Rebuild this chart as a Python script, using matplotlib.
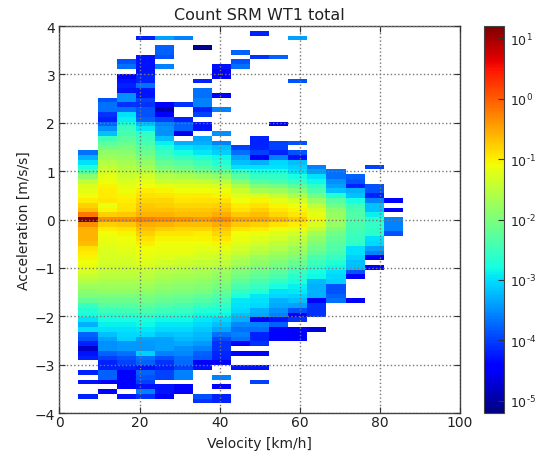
import matplotlib
matplotlib.use('Agg')
import matplotlib.pyplot as plt
import numpy as np
from matplotlib.colors import LogNorm

_ = np.nan

# log10 of the count per velocity column, rows listed from the top (a = +3.95) downwards
col_01 = [_]*26 + [-3.7,-3.3,-3.0,-2.75,-2.4,-1.9,-1.45,-1.3,-1.2,-1.1,-1.0,-.8,-.65,-.2,1.2,
    -.35,-.6,-.6,-.6,-.65,-.9,-1.0,-1.05,-1.1,-1.2,-1.3,-1.45,-1.6,-1.75,-1.9,-2.0,-2.2,-2.55,-2.7,-2.8,
    -3.0,-3.3,-3.0,-3.8,-3.9,-4.2,-4.8,-4.3,-4.2,_,_,-4.2,_,-4.3,_,_,-4.2]
col_02 = [_]*15 + [-3.9,-3.7,-3.7,-4.1,-4.2,-3.8,-3.5,-3.2,-2.5,-2.25,-2.1,-1.85,-1.75,-1.6,-1.45,-1.35,-1.2,-1.15,
    -1.05,-1.0,-1.0,-.95,-1.15,-1.05,-.8,-.35,
    -.8,-1.0,-1.1,-1.15,-1.2,-1.25,-1.3,-1.3,-1.35,-1.4,-1.45,-1.55,-1.65,-1.75,-1.85,-2.0,-2.15,-2.3,-2.5,-2.65,
    -2.8,-2.9,-3.0,-3.2,-3.4,-3.5,-3.5,-3.8,-4.0,-4.2,-4.2,-3.8,-3.8,-4.4,_,-4.4]
col_03 = [_]*7 + [-3.9,-3.7,_,-4.4,-4.3,-4.2,-4.3,-3.5,-3.5,-4.1,-3.7,-3.0,-2.9,-2.75,-2.5,-2.4,-2.3,-2.15,-2.05,
    -1.9,-1.8,-1.7,-1.6,-1.5,-1.4,-1.3,-1.2,-1.15,-1.05,-1.0,-.95,-.9,-.75,-.35,
    -.75,-.95,-1.05,-1.1,-1.15,-1.2,-1.25,-1.3,-1.35,-1.4,-1.45,-1.55,-1.65,-1.75,-1.85,-2.0,-2.15,-2.3,-2.45,-2.65,
    -2.8,-2.9,-3.0,-3.05,-3.1,-3.45,-3.45,-3.7,-3.9,-4.0,-4.2,-4.4,-4.4,-4.4,-4.5,_,-4.3]
col_04 = [_]*2 + [-4.2,_,_,_,-4.3,-4.3,-4.3,-4.3,-4.2,-4.2,-3.7,-4.3,-4.3,-4.0,-4.1,-3.9,-3.9,-3.8,-3.2,-2.95,-2.6,-2.5,
    -2.4,-2.3,-2.15,-2.0,-1.85,-1.7,-1.55,-1.35,-1.2,-1.1,-1.0,-.9,-.85,-.75,-.7,-.6,-.25,
    -.55,-.7,-.8,-.9,-1.0,-1.1,-1.15,-1.2,-1.25,-1.35,-1.45,-1.55,-1.65,-1.75,-1.85,-2.0,-2.1,-2.25,-2.4,-2.6,
    -2.75,-2.85,-2.95,-3.05,-3.4,-3.45,-3.45,-3.1,-3.7,-3.8,-4.3,-3.8,-3.9,-4.0,-4.3,-3.6,-4.1]
col_05 = [_]*2 + [-3.4,_,-3.8,-3.8,-3.9,_,-3.6] + [_]*7 + [-4.5,-4.9,-4.5,-4.0,-3.6,-3.5,-3.5,-3.2,-2.9,-2.7,-2.55,-2.4,
    -2.2,-2.05,-1.8,-1.6,-1.4,-1.2,-1.05,-.95,-.85,-.8,-.7,-.6,-.3,
    -.6,-.8,-.95,-1.05,-1.1,-1.15,-1.2,-1.25,-1.35,-1.45,-1.55,-1.65,-1.75,-1.85,-1.95,-2.05,-2.2,-2.35,-2.5,-2.65,
    -2.85,-2.95,-3.05,-3.2,-3.4,-3.4,-3.4,-3.6,-3.9,-4.1,-4.2,-4.0,-4.0,_,-4.3,-4.3,-4.4]
col_06 = [_]*2 + [-3.6] + [_]*13 + [-4.1,_,_,-4.2,-3.8,-3.8,-4.6,_,-3.3,-3.0,-2.8,-2.55,-2.35,-2.15,-1.9,-1.65,-1.4,
    -1.25,-1.1,-1.0,-.95,-.85,-.75,-.65,-.35,
    -.65,-.85,-.95,-1.05,-1.1,-1.15,-1.2,-1.3,-1.4,-1.5,-1.6,-1.7,-1.8,-1.9,-2.0,-2.1,-2.25,-2.4,-2.55,-2.7,
    -2.85,-2.95,-3.05,-3.15,-3.25,-3.35,-3.5,-3.55,-3.7,-3.75,-4.0,-3.6,-3.6,_,-4.4,-4.4]
col_07 = [_]*4 + [-5.1] + [_]*6 + [-4.2,_,-3.7,-3.7,-3.6,-3.6,-4.2,-4.0,_,-4.3,-4.3,_,-3.4,-3.3,-3.1,-2.95,-2.7,-2.5,-2.3,
    -2.05,-1.75,-1.45,-1.25,-1.1,-1.0,-.9,-.85,-.75,-.65,-.4,
    -.65,-.85,-1.0,-1.05,-1.1,-1.2,-1.3,-1.35,-1.45,-1.55,-1.65,-1.75,-1.85,-1.95,-2.05,-2.2,-2.35,-2.5,-2.7,-2.85,
    -2.95,-3.05,-3.15,-3.25,-3.3,-3.45,-3.6,-3.8,-3.85,-4.5,-4.3,_,_,_,_,_,-3.9,-4.1]
col_08 = [_]*8 + [-4.3,-4.4,-4.4,_,_,_,-4.4,_,_,-3.6,_,_,_,_,-3.5,_,-3.6,-3.2,-3.1,-2.85,-2.7,-2.5,-2.2,-1.85,-1.55,-1.3,
    -1.15,-1.05,-.9,-.8,-.7,-.55,-.3,
    -.55,-.75,-.85,-.95,-1.05,-1.2,-1.3,-1.4,-1.5,-1.6,-1.75,-1.85,-1.95,-2.05,-2.2,-2.3,-2.45,-2.6,-2.75,-2.85,
    -3.05,-3.2,-3.35,-3.7,-3.95,-4.1,-4.1,-4.15,-4.2,-4.5,_,_,-3.6,_,-4.4,_,-4.2,-4.2]
col_09 = [_]*5 + [-3.8,_,-3.9,-3.7] + [_]*16 + [-4.0,-3.7,-3.4,-3.2,-3.0,-2.55,-2.3,-1.95,-1.65,-1.4,-1.25,-1.1,-1.0,-.9,-.75,-.5,
    -.75,-.95,-1.1,-1.15,-1.25,-1.35,-1.45,-1.6,-1.7,-1.85,-1.95,-2.1,-2.25,-2.4,-2.6,-2.75,-2.95,-3.0,-3.05,-3.2,
    -3.3,-3.55,-3.7,-3.6,-3.7,-4.4,_,-4.5,_,_,-4.3]
col_10 = [_]*1 + [-4.2,_,_,_,_,-4.1] + [_]*16 + [-4.2,-4.2,-4.15,-4.0,-4.4,-3.3,-3.0,-2.8,-2.55,-2.3,-2.0,-1.7,-1.3,-1.05,-.9,-.8,-.65,-.5,
    -.8,-1.0,-1.15,-1.25,-1.35,-1.5,-1.6,-1.75,-1.85,-2.0,-2.1,-2.25,-2.4,-2.55,-2.7,-2.95,-3.0,-3.05,-3.3,-3.35,
    -4.5,-3.6,-3.7,-4.2,-4.2,-4.1,_,-4.4,_,_,-4.3,_,_,-4.0]
col_11 = [_]*6 + [-3.8] + [_]*13 + [-4.6,_,_,_,-4.0,-4.0,-4.2,-3.6,-3.05,-3.0,-2.8,-2.6,-2.4,-2.1,-1.75,-1.45,-1.2,-1.05,-.95,-.85,-.6,
    -.9,-1.1,-1.25,-1.35,-1.5,-1.6,-1.75,-1.85,-2.0,-2.1,-2.25,-2.4,-2.6,-2.8,-3.0,-3.05,-3.3,-3.35,-3.5,-3.6,
    -4.3,-3.8,-4.4,-4.4,-4.4]
col_12 = [_]*2 + [-3.4] + [_]*8 + [-3.9] + [_]*12 + [-3.9,_,-3.9,-4.3,-3.2,-3.1,-3.0,-2.8,-2.55,-2.3,-1.95,-1.65,-1.35,-1.1,-1.05,-.95,-.75,
    -1.0,-1.2,-1.35,-1.5,-1.6,-1.75,-1.85,-2.0,-2.15,-2.3,-2.5,-2.65,-2.75,-2.9,-2.95,-3.1,-3.2,-3.4,-3.9,-4.5,
    -4.1,_,-4.4,-4.4,-4.4]
col_13 = [_]*29 + [-3.6,-3.4,-3.0,-2.85,-2.6,-2.4,-2.1,-1.8,-1.5,-1.3,-1.2,-1.05,
    -1.3,-1.5,-1.7,-1.85,-2.0,-2.1,-2.25,-2.4,-2.5,-2.65,-2.8,-2.85,-3.25,-3.3,-3.3,-3.3,-4.5,-4.1,-4.1,-4.1,_,_,-4.7]
col_14 = [_]*30 + [-3.7,-3.7,-3.5,-3.4,-3.2,-2.7,-2.3,-2.1,-1.9,-1.8,-1.75,
    -1.8,-2.0,-2.1,-2.2,-2.3,-2.35,-2.45,-2.55,-2.7,-2.85,-3.0,-3.05,-3.1,-3.9,-3.9,-3.8,-3.7]
col_15 = [_]*31 + [-3.8,-3.9,-4.2,-3.3,-3.2,-2.8,-2.5,-2.4,-2.35,-2.35,
    -2.4,-2.45,-2.5,-2.55,-2.6,-3.0,-3.0,-3.1,-3.2,-3.2,-3.9,-4.5,_,_,_,_,-4.4]
col_16 = [_]*29 + [-4.0,_,_,_,-3.9,-3.9,-4.2,-3.6,-3.2,-3.2,-2.9,-2.65,
    -2.6,-2.6,-2.65,-3.0,-3.05,-3.4,-3.6,-4.4,_,-4.5]
col_17 = [_]*36 + [-4.4,_,-4.5,_,-3.6,-3.6,-3.6,-3.9]

columns = [col_01, col_02, col_03, col_04, col_05, col_06, col_07, col_08, col_09,
           col_10, col_11, col_12, col_13, col_14, col_15, col_16, col_17]
cbar_exponents = [-5, -4, -3, -2, -1, 0, 1]

n_rows = 81
n_cols = 21
log_counts = np.full((n_rows, n_cols), np.nan)
for i, col in enumerate(columns):
    # rows were read top down, the mesh runs bottom up
    log_counts[n_rows - len(col):, i + 1] = col[::-1]

v_edges = np.linspace(0, 100, n_cols + 1)
a_edges = np.linspace(-4, 4, n_rows + 1)
counts = np.ma.masked_invalid(10.0 ** log_counts)

plt.rcParams['font.family'] = 'DejaVu Sans'
plt.rcParams['mathtext.default'] = 'regular'

fig = plt.figure(figsize=(5.36, 4.6), dpi=100)
ax = fig.add_axes([59.4/536, 1 - 414/460, 400.6/536, 387/460])
cax = fig.add_axes([484/536, 1 - 414/460, 20/536, 387/460])

mesh = ax.pcolormesh(v_edges, a_edges, counts, cmap='jet',
                     norm=LogNorm(vmin=10**-5.2, vmax=10**1.2))
ax.set_xlim(0, 100)
ax.set_ylim(-4, 4)
ax.set_xticks(np.arange(0, 101, 20))
ax.set_yticks(np.arange(-4, 5))
ax.grid(True, color='#777777', linestyle=':', linewidth=1.0)
ax.set_axisbelow(False)
ax.tick_params(direction='in', top=True, right=True, labelsize=10, length=4, color='#333333', labelcolor='#222222')
ax.tick_params(axis='x', pad=1.5)
ax.tick_params(axis='y', pad=3)
ax.set_xlabel('Velocity [km/h]', fontsize=10, labelpad=5, color='#222222')
ax.set_ylabel('Acceleration [m/s/s]', fontsize=10, labelpad=3, color='#222222')
ax.set_title('Count SRM WT1 total', fontsize=11.5, pad=5, color='#222222')
for s in ax.spines.values():
    s.set_color('#444444')
    s.set_linewidth(1.0)

cb = fig.colorbar(mesh, cax=cax)
cb.set_ticks([10.0**e for e in cbar_exponents])
cb.set_ticklabels(['$10^{\\text{%d}}$' % e for e in cbar_exponents])
cb.minorticks_off()
cax.tick_params(direction='in', labelsize=9, length=4, color='#333333', pad=4, labelcolor='#222222')
cb.outline.set_edgecolor('#444444')

fig.savefig('out.png', dpi=100)
